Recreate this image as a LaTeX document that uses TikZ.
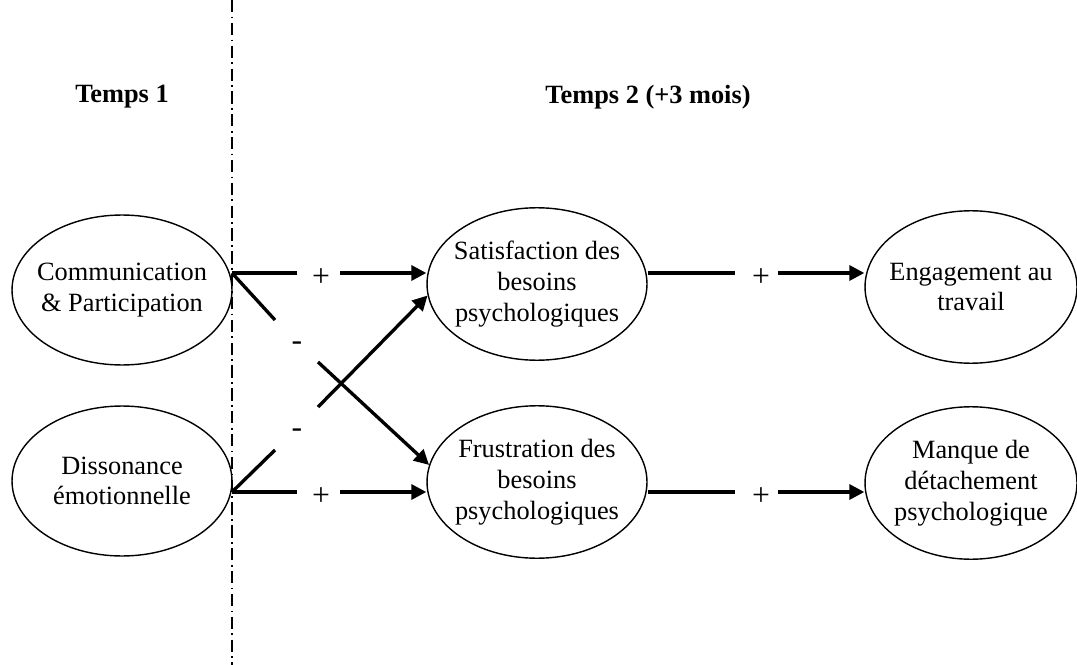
\documentclass[tikz,border=0pt]{standalone}
\usepackage{fontspec}
\setmainfont{Liberation Serif}
\usetikzlibrary{shapes.geometric,arrows.meta}
\begin{document}
\begin{tikzpicture}[x=0.02cm,y=-0.02cm,
  txt/.style={font=\fontsize{15}{17.5}\selectfont},
  oval/.style={ellipse,draw,line width=0.8pt,inner xsep=-2cm,inner ysep=-1cm,align=center,txt},
  lft/.style={oval,minimum width=4.4cm,minimum height=3.0cm},
  mid/.style={oval,minimum width=4.4cm,minimum height=3.05cm},
  rgt/.style={oval,minimum width=4.24cm,minimum height=3.05cm},
  conn/.style={line width=1.9pt},
  arr/.style={conn,-{Triangle[length=8.5pt,width=8.5pt]}},
  sign/.style={inner sep=0pt,font=\fontsize{18}{20}\selectfont},
  head/.style={font=\fontsize{15}{17}\selectfont\bfseries}]
\useasboundingbox (0,0) rectangle (1077,665);
% separator
\coordinate (vtop) at (232,0);
\coordinate (vbot) at (232,665);
\draw[line width=0.7pt,dash pattern=on 7pt off 2.5pt on 1pt off 2.5pt] (vtop) -- (vbot);
% headers
\node[head] (t1) at (122,97) {Temps 1};
\node[head] (t2) at (648,97) {Temps 2 (+3 mois)};
% nodes
\node[lft] (comm) at (122,290) {Communication\\\& Participation};
\node[lft] (diss) at (122,481) {Dissonance\\émotionnelle};
\node[mid] (sat) at (537,284) {Satisfaction des\\besoins\\psychologiques};
\node[mid] (frus) at (537,482) {Frustration des\\besoins\\psychologiques};
\node[rgt] (eng) at (971,287) {Engagement au\\travail};
\node[rgt] (man) at (971,483) {Manque de\\détachement\\psychologique};
% gap coordinates
\coordinate (s1) at (232,273);
\coordinate (s2) at (232,492);
\coordinate (a1) at (297,273);
\coordinate (a2) at (340,273);
\coordinate (b1) at (297,492);
\coordinate (b2) at (340,492);
\coordinate (c1) at (275,320);
\coordinate (c2) at (318,362);
\coordinate (d1) at (275,450);
\coordinate (d2) at (318,407);
\coordinate (e1) at (735,273);
\coordinate (e2) at (778,273);
\coordinate (f1) at (735,492);
\coordinate (f2) at (778,492);
% signs
\node[sign] (p1) at (321,278) {+};
\node[sign] (p2) at (321,497) {+};
\node[sign] (m1) at (297,346) {-};
\node[sign] (m2) at (297,433) {-};
\node[sign] (p3) at (761,278) {+};
\node[sign] (p4) at (761,497) {+};
% connectors left
\draw[conn] (s1) -- (a1);
\draw[arr] (a2) -- (a2 -| sat.west);
\draw[conn] (s2) -- (b1);
\draw[arr] (b2) -- (b2 -| frus.west);
\draw[conn] (s1) -- (c1);
\draw[arr] (c2) -- (frus.171);
\draw[conn] (s2) -- (d1);
\draw[arr] (d2) -- (sat.186);
% connectors right
\draw[conn] (e1 -| sat.east) -- (e1);
\draw[arr] (e2) -- (e2 -| eng.west);
\draw[conn] (f1 -| frus.east) -- (f1);
\draw[arr] (f2) -- (f2 -| man.west);
\end{tikzpicture}
\end{document}
